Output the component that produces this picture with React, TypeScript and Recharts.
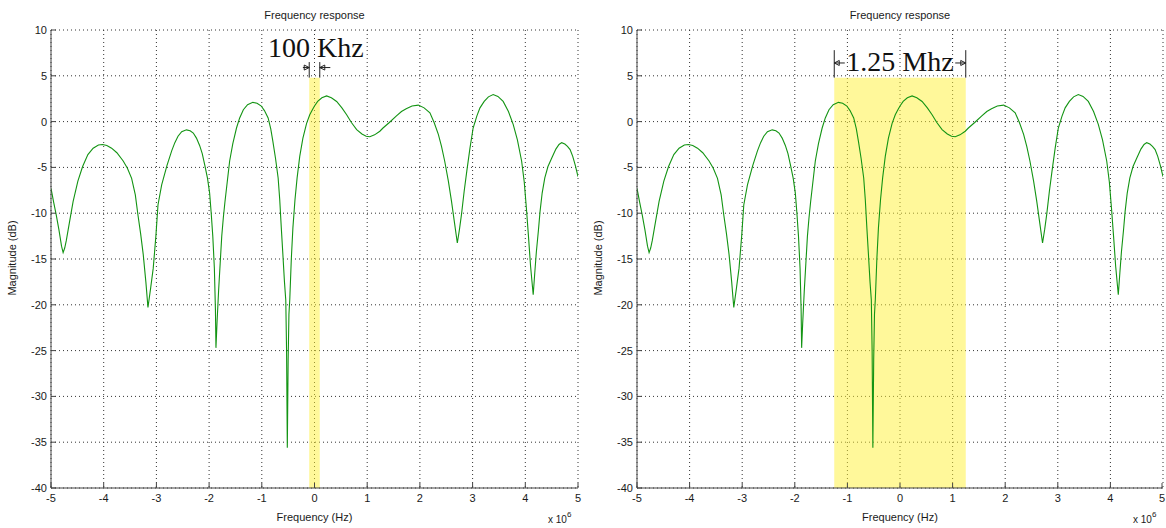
import { LineChart, Line, XAxis, YAxis, CartesianGrid, ReferenceArea, ReferenceLine, ReferenceDot } from 'recharts'

// frequency in units of 1e6 Hz, magnitude in dB
const freqMHz = [
  -5.0, -4.95, -4.9, -4.85, -4.8, -4.77, -4.74, -4.71, -4.65, -4.58, -4.49, -4.4, -4.3, -4.2, -4.1, -4.02,
  -3.94, -3.85, -3.75, -3.63, -3.55, -3.47, -3.4, -3.35, -3.3, -3.25, -3.2, -3.16, -3.11, -3.06, -3.01, -2.97,
  -2.9, -2.8, -2.71, -2.65, -2.59, -2.52, -2.43, -2.36, -2.3, -2.24, -2.18, -2.13, -2.08, -2.03, -1.99, -1.96,
  -1.93, -1.9, -1.88, -1.87, -1.85, -1.82, -1.79, -1.76, -1.73, -1.7, -1.65, -1.61, -1.55, -1.48, -1.42, -1.35,
  -1.27, -1.17, -1.09, -1.01, -0.95, -0.88, -0.83, -0.79, -0.74, -0.69, -0.66, -0.63, -0.6, -0.57, -0.545, -0.53,
  -0.516, -0.5, -0.485, -0.469, -0.44, -0.41, -0.37, -0.33, -0.28, -0.22, -0.15, -0.09, -0.04, 0.0, 0.06, 0.14,
  0.23, 0.32, 0.42, 0.52, 0.61, 0.7, 0.8, 0.9, 0.98, 1.05, 1.14, 1.24, 1.3, 1.42, 1.55, 1.65,
  1.74, 1.85, 1.97, 2.08, 2.19, 2.27, 2.35, 2.41, 2.47, 2.54, 2.6, 2.66, 2.71, 2.75, 2.79, 2.84,
  2.89, 2.95, 3.01, 3.08, 3.14, 3.22, 3.3, 3.39, 3.48, 3.58, 3.68, 3.77, 3.85, 3.93, 3.98, 4.02,
  4.06, 4.1, 4.15, 4.18, 4.21, 4.25, 4.28, 4.32, 4.37, 4.43, 4.5, 4.58, 4.64, 4.69, 4.75, 4.8,
  4.85, 4.9, 4.95, 5.0,
]
const magnitudeDb = [
  -7.3, -8.8, -10.2, -11.8, -13.6, -14.3, -13.8, -13.0, -11.0, -8.7, -6.5, -4.9, -3.6, -2.9, -2.55, -2.5,
  -2.6, -2.9, -3.4, -4.3, -5.1, -6.2, -8.0, -10.2, -12.2, -14.5, -17.5, -20.3, -18.2, -16.0, -12.5, -9.1,
  -6.9, -4.8, -3.2, -2.3, -1.6, -1.1, -0.9, -1.0, -1.25, -1.8, -2.6, -3.5, -4.8, -6.2, -7.8, -10.0,
  -12.5, -16.0, -20.5, -24.7, -22.0, -18.5, -15.5, -12.5, -10.5, -8.8, -6.3, -4.3, -2.4, -0.7, 0.4, 1.3,
  1.85, 2.1, 2.0, 1.7, 1.2, 0.4, -0.8, -2.15, -4.0, -6.15, -8.5, -11.6, -14.5, -17.5, -19.5, -25.0,
  -35.6, -26.0, -21.0, -19.4, -15.0, -11.6, -8.5, -6.15, -3.8, -1.8, -0.2, 0.75, 1.3, 1.7, 2.2, 2.6,
  2.8, 2.6, 2.2, 1.5, 0.75, -0.1, -0.87, -1.35, -1.6, -1.65, -1.45, -1.05, -0.7, -0.1, 0.6, 1.1,
  1.4, 1.7, 1.8, 1.5, 0.95, -0.1, -1.4, -2.7, -4.3, -6.5, -8.7, -11.2, -13.25, -11.8, -10.1, -7.6,
  -5.4, -2.9, -0.7, 0.6, 1.5, 2.2, 2.7, 2.95, 2.75, 2.2, 1.1, -0.3, -2.0, -4.3, -6.6, -9.4,
  -12.5, -15.8, -18.9, -16.5, -14.2, -11.8, -9.8, -7.8, -6.15, -4.9, -4.0, -3.0, -2.5, -2.3, -2.45, -2.7,
  -3.05, -3.8, -4.8, -6.0,
]

const xTicks = [-5, -4, -3, -2, -1, 0, 1, 2, 3, 4, 5]
const yTicks = [-40, -35, -30, -25, -20, -15, -10, -5, 0, 5, 10]

const narrowBand = [-0.1, 0.1]
const wideBand = [-1.25, 1.25]
const bandTop = 4.8

const data = freqMHz.map((f, i) => ({ f, db: magnitudeDb[i] }))

const SANS = '"Liberation Sans", Arial, sans-serif'
const SERIF = '"Liberation Serif", "Times New Roman", serif'
const INK = '#1a1a1a'

function XTick({ x, y, payload }: any) {
  return (
    <g>
      <line x1={x} x2={x} y1={y - 4} y2={y - 9} stroke="#444" />
      <text x={x} y={y + 10} textAnchor="middle" fontFamily={SANS} fontSize={11} fill={INK}>
        {payload.value}
      </text>
    </g>
  )
}

function YTick({ x, y, payload }: any) {
  return (
    <g>
      <line x1={x + 4} x2={x + 9} y1={y} y2={y} stroke="#444" />
      <text x={x} y={y + 4} textAnchor="end" fontFamily={SANS} fontSize={11} fill={INK}>
        {payload.value}
      </text>
    </g>
  )
}

// small outlined arrow head, tip at the point, dir 1 = pointing right
const arrowTo = (dir: 1 | -1) => (p: any) => (
  <path d={`M${p.cx},${p.cy} l${-5 * dir},-2.5 v5 z`} fill="none" stroke="#222" strokeWidth={1} />
)
const bigLabel = (txt: string) => (p: any) => (
  <text x={p.cx} y={p.cy} textAnchor="middle" fontFamily={SERIF} fontSize={28} fill="#111">
    {txt}
  </text>
)

type PanelProps = { left: number; marginLeft: number; marginRight: number; wide: boolean }

function Panel({ left, marginLeft, marginRight, wide }: PanelProps) {
  const W = 583
  const H = 528
  const plotL = marginLeft + 40
  const plotR = W - marginRight
  const cx = (plotL + plotR) / 2
  const band = wide ? wideBand : narrowBand
  return (
    <div style={{ position: 'absolute', left, top: 0, width: W, height: H }}>
      <LineChart width={W} height={H} data={data} margin={{ top: 30, right: marginRight, left: marginLeft, bottom: 0 }}>
        <CartesianGrid stroke="#333" strokeDasharray="1 3" />
        <ReferenceArea x1={band[0]} x2={band[1]} y1={-40} y2={bandTop} fill="#fff236" fillOpacity={0.5} stroke="none" />
        <XAxis
          type="number"
          dataKey="f"
          domain={[-5, 5]}
          ticks={xTicks}
          allowDataOverflow
          height={40}
          tickSize={0}
          tickMargin={4}
          tick={<XTick />}
          stroke="#444"
        />
        <YAxis
          type="number"
          domain={[-40, 10]}
          ticks={yTicks}
          allowDataOverflow
          width={40}
          tickSize={0}
          tickMargin={4}
          tick={<YTick />}
          stroke="#444"
        />
        <Line type="linear" dataKey="db" stroke="#139413" strokeWidth={1.1} dot={false} isAnimationActive={false} />
        {wide ? (
          <>
            <ReferenceLine segment={[{ x: -1.25, y: bandTop }, { x: -1.25, y: 7.8 }]} stroke="#222" />
            <ReferenceLine segment={[{ x: 1.25, y: bandTop }, { x: 1.25, y: 7.8 }]} stroke="#222" />
            <ReferenceLine segment={[{ x: -1.25, y: 6.4 }, { x: -1.05, y: 6.4 }]} stroke="#222" />
            <ReferenceLine segment={[{ x: 1.05, y: 6.4 }, { x: 1.25, y: 6.4 }]} stroke="#222" />
            <ReferenceDot x={-1.25} y={6.4} shape={arrowTo(-1)} />
            <ReferenceDot x={1.25} y={6.4} shape={arrowTo(1)} />
            <ReferenceDot x={0.0} y={5.5} shape={bigLabel('1.25 Mhz')} />
          </>
        ) : (
          <>
            <ReferenceLine segment={[{ x: -0.1, y: bandTop }, { x: -0.1, y: 6.5 }]} stroke="#222" />
            <ReferenceLine segment={[{ x: 0.1, y: bandTop }, { x: 0.1, y: 6.5 }]} stroke="#222" />
            <ReferenceLine segment={[{ x: -0.22, y: 5.9 }, { x: -0.1, y: 5.9 }]} stroke="#222" />
            <ReferenceLine segment={[{ x: 0.1, y: 5.9 }, { x: 0.3, y: 5.9 }]} stroke="#222" />
            <ReferenceDot x={-0.1} y={5.9} shape={arrowTo(1)} />
            <ReferenceDot x={0.1} y={5.9} shape={arrowTo(-1)} />
            <ReferenceDot x={0.025} y={7.06} shape={bigLabel('100 Khz')} />
          </>
        )}
      </LineChart>
      <div style={{ position: 'absolute', left: cx - 100, width: 200, top: 9, textAlign: 'center', font: `11px ${SANS}`, color: INK }}>
        Frequency response
      </div>
      <div style={{ position: 'absolute', left: cx - 100, width: 200, top: 511, textAlign: 'center', font: `11px ${SANS}`, color: INK }}>
        Frequency (Hz)
      </div>
      <div
        style={{
          position: 'absolute',
          left: plotL - 39 - 50,
          top: 259 - 7,
          width: 100,
          textAlign: 'center',
          font: `11px ${SANS}`,
          color: INK,
          transform: 'rotate(-90deg)',
        }}
      >
        Magnitude (dB)
      </div>
      <div style={{ position: 'absolute', left: plotR - 30, top: 514, font: `10px ${SANS}`, color: INK, whiteSpace: 'nowrap' }}>
        x 10<sup style={{ fontSize: 8, verticalAlign: 6, lineHeight: 0 }}>6</sup>
      </div>
    </div>
  )
}

export default function App() {
  return (
    <div style={{ position: 'fixed', left: 0, top: 0, width: 1166, height: 528, overflow: 'hidden', background: '#fff' }}>
      <Panel left={0} marginLeft={11} marginRight={5} wide={false} />
      <Panel left={583} marginLeft={14} marginRight={3} wide={true} />
    </div>
  )
}
